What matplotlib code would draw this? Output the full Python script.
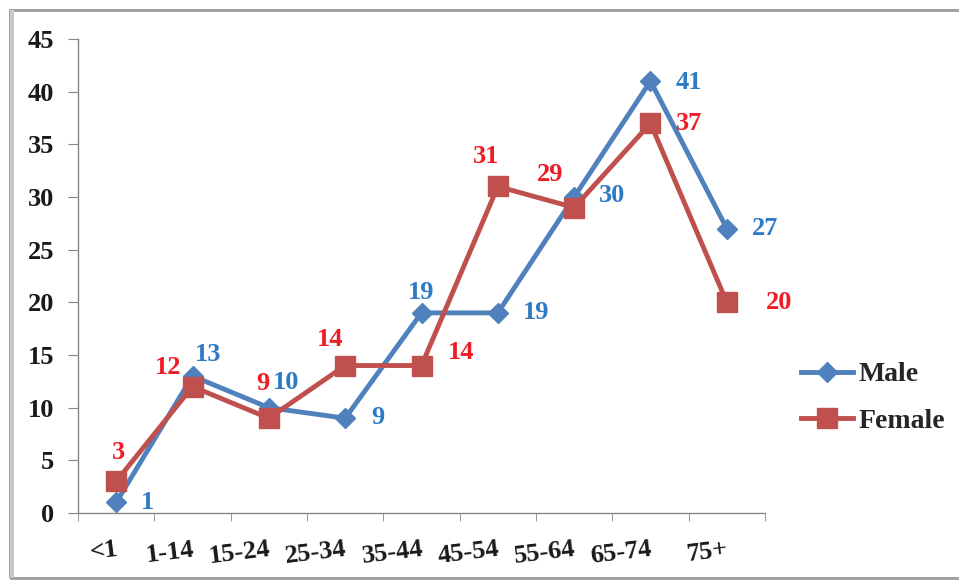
import matplotlib
matplotlib.use("Agg")
from matplotlib import pyplot as plt
from matplotlib.patches import Rectangle
from matplotlib.ticker import FixedLocator

age_groups = ["<1", "1-14", "15-24", "25-34", "35-44", "45-54", "55-64", "65-74", "75+"]
male = [1, 13, 10, 9, 19, 19, 30, 41, 27]
female = [3, 12, 9, 14, 14, 31, 29, 37, 20]

# label offsets in pixels, picked by eye to match the reference
male_offsets = [(31, 0), (16, 22), (17, 25), (33, 1), (0, 20), (38, 0), (38, 1), (38, -1), (38, 0)]
female_offsets = [(2, 29), (-24, 19), (-6, 35), (-15, 26), (40, 13), (-12, 30), (-24, 33), (39, 0), (52, 0)]

MALE_LINE = "#4F81BD"
FEMALE_LINE = "#C0504D"
MALE_TEXT = "#2E7BC4"
FEMALE_TEXT = "#EE1C25"

plt.rcParams["font.family"] = ["Liberation Serif", "DejaVu Serif"]
plt.rcParams["font.weight"] = "bold"

fig = plt.figure(figsize=(9.59, 5.83), dpi=100)
ax = fig.add_axes([78 / 959, 70 / 583, (765 - 78) / 959, (513 - 39) / 583])

x = list(range(len(age_groups)))
ax.plot(x, male, color=MALE_LINE, lw=3.5, marker="D", ms=10, label="Male", zorder=3)
ax.plot(x, female, color=FEMALE_LINE, lw=3.5, marker="s", ms=14, label="Female", zorder=4)

for i, v in enumerate(male):
    ax.annotate(str(v), (i, v), xytext=male_offsets[i], textcoords="offset pixels",
                ha="center", va="center", fontsize=19, fontweight="bold", color=MALE_TEXT, zorder=6)
for i, v in enumerate(female):
    ax.annotate(str(v), (i, v), xytext=female_offsets[i], textcoords="offset pixels",
                ha="center", va="center", fontsize=19, fontweight="bold", color=FEMALE_TEXT, zorder=6)

ax.set_xlim(-0.5, len(age_groups) - 0.5)
ax.set_ylim(0, 45)
ax.set_yticks(range(0, 46, 5))
ax.set_xticks(x)
ax.set_xticklabels(age_groups, rotation=7, fontsize=19, fontweight="bold", color="#1a1a1a",
                   ha="right", va="top", rotation_mode="anchor")
ax.xaxis.set_minor_locator(FixedLocator([i - 0.5 for i in range(len(age_groups) + 1)]))
ax.tick_params(axis="x", which="major", length=0, pad=18)
ax.tick_params(axis="x", which="minor", length=6, color="#868686", direction="out")
ax.tick_params(axis="y", length=7, color="#868686", pad=10, labelsize=19, labelcolor="#1a1a1a")
for lab in ax.get_yticklabels():
    lab.set_fontweight("bold")

for side in ["top", "right"]:
    ax.spines[side].set_visible(False)
for side in ["left", "bottom"]:
    ax.spines[side].set_color("#868686")
    ax.spines[side].set_linewidth(1)

leg = ax.legend(loc="center left", bbox_to_anchor=(1.0, 0.243), frameon=False,
                prop={"family": "Liberation Serif", "weight": "bold", "size": 20},
                handlelength=1.85, labelspacing=0.75, handletextpad=0.2, borderaxespad=0.9)
for t in leg.get_texts():
    t.set_color("#262626")

# grey frame around the whole picture
fig.patches.append(Rectangle((10 / 959, 5 / 583), 1.2, 568 / 583, transform=fig.transFigure,
                             fill=False, edgecolor="#9a9a9a", lw=2))
fig.patches.append(Rectangle((10 / 959, 5 / 583), 4 / 959, 568 / 583, transform=fig.transFigure,
                             facecolor="#c8c8c8", edgecolor="none"))

fig.savefig("out.png", dpi=100)
